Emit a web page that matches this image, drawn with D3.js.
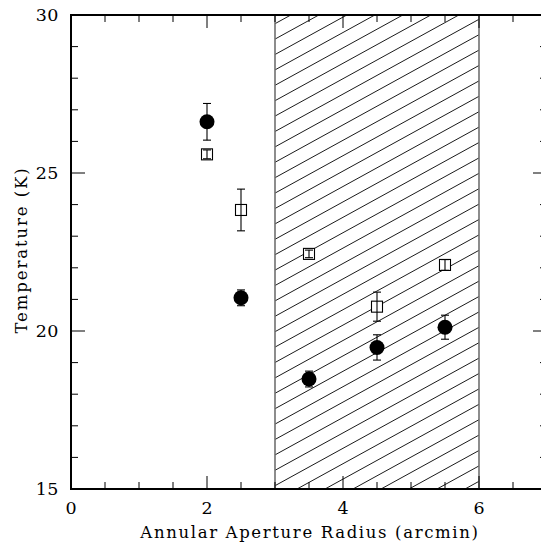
<!DOCTYPE html>
<html>
<head>
<meta charset="utf-8">
<script src="https://cdn.jsdelivr.net/npm/d3@7"></script>
<style>
html,body{margin:0;padding:0;background:#fff;}
svg{display:block;}
text{font-family:"DejaVu Serif","Liberation Serif",serif;fill:#000;}
</style>
</head>
<body>
<svg id="chart" width="541" height="544"></svg>
<script>
// ---- data ----
const radius = [2, 2.5, 3.5, 4.5, 5.5];
const tempFilled = [26.62, 21.05, 18.48, 19.48, 20.12];
const errFilled = [0.58, 0.25, 0.25, 0.4, 0.38];
const tempOpen = [25.59, 23.83, 22.44, 20.77, 22.09];
const errOpen = [0.14, 0.66, 0.12, 0.46, 0.17];
const hatchRange = [3, 6];
const xTicks = [0, 2, 4, 6];
const yTicks = [15, 20, 25, 30];
const xLabel = "Annular Aperture Radius (arcmin)";
const yLabel = "Temperature (K)";

(function () {
// ---- layout ----
const svg = d3.select("#chart");
const pL = 71, pT = 15, pR = 547, pB = 489;
const x = d3.scaleLinear().domain([0, 7]).range([pL, pR]);
const y = d3.scaleLinear().domain([15, 30]).range([pB, pT]);

// hatched region
const hx0 = x(hatchRange[0]), hx1 = x(hatchRange[1]);
svg.append("clipPath").attr("id", "hclip")
  .append("rect").attr("x", hx0).attr("y", pT).attr("width", hx1 - hx0).attr("height", pB - pT);
const slope = 0.55, period = 28, anchorX = 465;
const hg = svg.append("g").attr("clip-path", "url(#hclip)");
const H = pB - pT;
const starts = d3.range(-60, 10).map(k => anchorX + k * period);
hg.selectAll("line").data(starts).join("line")
  .attr("x1", d => d).attr("y1", pB)
  .attr("x2", d => d + H / slope).attr("y2", pT)
  .attr("stroke", "#000").attr("stroke-width", 0.9);
[hx0, hx1].forEach(v => svg.append("line")
  .attr("x1", v).attr("x2", v).attr("y1", pT).attr("y2", pB)
  .attr("stroke", "#707070").attr("stroke-width", 1.6));

// frame
svg.append("rect").attr("x", pL).attr("y", pT).attr("width", pR - pL).attr("height", pB - pT)
  .attr("fill", "none").attr("stroke", "#000").attr("stroke-width", 2);

// ticks
const tg = svg.append("g").attr("stroke", "#000").attr("stroke-width", 1);
d3.range(0, 7.01, 0.5).forEach(v => {
  const major = Math.abs(v % 2) < 1e-9;
  const L = major ? 13 : 7;
  tg.append("line").attr("x1", x(v)).attr("x2", x(v)).attr("y1", pB).attr("y2", pB - L);
  tg.append("line").attr("x1", x(v)).attr("x2", x(v)).attr("y1", pT).attr("y2", pT + L);
});
d3.range(15, 30.01, 1).forEach(v => {
  const major = Math.abs(v % 5) < 1e-9;
  const L = major ? 14 : 7;
  tg.append("line").attr("y1", y(v)).attr("y2", y(v)).attr("x1", pL).attr("x2", pL + L);
  tg.append("line").attr("y1", y(v)).attr("y2", y(v)).attr("x1", pR).attr("x2", pR - L);
});

// tick labels
svg.append("g").selectAll("text").data(xTicks).join("text")
  .attr("x", d => x(d)).attr("y", pB + 25)
  .attr("text-anchor", "middle").attr("font-size", 17.5).text(d => d);
svg.append("g").selectAll("text").data(yTicks).join("text")
  .attr("x", pL - 12).attr("y", d => y(d) + 6)
  .attr("text-anchor", "end").attr("font-size", 17.5).attr("letter-spacing", 0.5).text(d => d);

// axis titles
svg.append("text").attr("x", x(3.5) + 1).attr("y", 538)
  .attr("text-anchor", "middle").attr("font-size", 16.5).attr("letter-spacing", 1.65).text(xLabel);
svg.append("text").attr("transform", `translate(27,${(pT + pB) / 2 - 2}) rotate(-90)`)
  .attr("text-anchor", "middle").attr("font-size", 16.5).attr("letter-spacing", 1.9).text(yLabel);

// points
const cap = 4;
function errBars(g, vals, errs) {
  radius.forEach((r, i) => {
    const cx = x(r), yt = y(vals[i] + errs[i]), yb = y(vals[i] - errs[i]);
    g.append("line").attr("x1", cx).attr("x2", cx).attr("y1", yt).attr("y2", yb);
    g.append("line").attr("x1", cx - cap).attr("x2", cx + cap).attr("y1", yt).attr("y2", yt);
    g.append("line").attr("x1", cx - cap).attr("x2", cx + cap).attr("y1", yb).attr("y2", yb);
  });
}
const sq = 11;
svg.append("g").selectAll("rect").data(radius).join("rect")
  .attr("x", d => x(d) - sq / 2).attr("y", (d, i) => y(tempOpen[i]) - sq / 2)
  .attr("width", sq).attr("height", sq)
  .attr("fill", "#fff").attr("stroke", "#000").attr("stroke-width", 1.1);
errBars(svg.append("g").attr("stroke", "#000").attr("stroke-width", 1.1), tempOpen, errOpen);
errBars(svg.append("g").attr("stroke", "#000").attr("stroke-width", 1.1), tempFilled, errFilled);
svg.append("g").selectAll("circle").data(radius).join("circle")
  .attr("cx", d => x(d)).attr("cy", (d, i) => y(tempFilled[i]))
  .attr("r", 7.5).attr("fill", "#000");
})();
</script>
</body>
</html>
